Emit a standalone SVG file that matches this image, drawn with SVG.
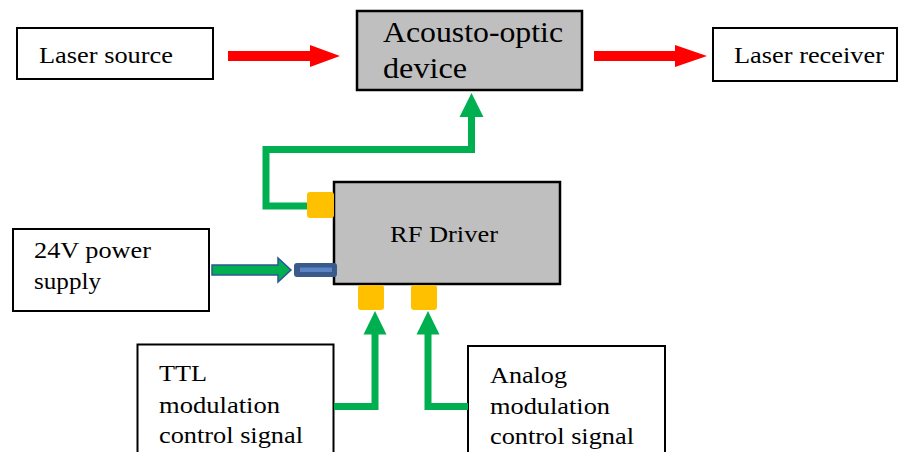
<svg xmlns="http://www.w3.org/2000/svg" width="899" height="452" viewBox="0 0 899 452" font-family="Liberation Serif, Times New Roman, serif">
<style>
.box{fill:#ffffff;stroke:#000;stroke-width:2}
.gbox{fill:#bfbfbf;stroke:#000;stroke-width:2.5}
text{font-family:"Liberation Serif",serif}
.t{font-size:23px;fill:#000}
.tb{font-size:29px;fill:#000}
.port{fill:#ffc000}
.red{fill:#ff0000}
.gl{fill:none;stroke:#00b050;stroke-width:7}
.gh{fill:#00b050}
</style>
<g id="laser-source">
<rect class="box" x="17" y="28" width="196" height="51"/>
<text class="t" x="39" y="62.5" textLength="134" lengthAdjust="spacingAndGlyphs">Laser source</text>
</g>
<g id="acousto-optic">
<rect class="gbox" x="357" y="11" width="225" height="79"/>
<text class="tb" x="383" y="41.5" textLength="180" lengthAdjust="spacingAndGlyphs">Acousto-optic</text>
<text class="tb" x="383" y="78" textLength="84" lengthAdjust="spacingAndGlyphs">device</text>
</g>
<g id="laser-receiver">
<rect class="box" x="713" y="28" width="184" height="53"/>
<text class="t" x="734" y="63" textLength="150" lengthAdjust="spacingAndGlyphs">Laser receiver</text>
</g>
<g id="rf-driver">
<rect class="gbox" x="334" y="182" width="226" height="102"/>
<text class="t" x="390" y="241.5" textLength="108" lengthAdjust="spacingAndGlyphs">RF Driver</text>
<rect class="port" x="307" y="192" width="27" height="26" rx="3"/>
<rect class="port" x="358" y="285" width="26" height="25" rx="3"/>
<rect class="port" x="411" y="285" width="26" height="25" rx="3"/>
<rect x="294" y="263" width="43" height="14" rx="3" fill="#3b5a8c"/>
<rect x="300" y="267.5" width="32" height="4.5" fill="#5b84c4"/>
</g>
<g id="power-supply">
<rect class="box" x="13" y="229" width="196" height="82"/>
<text class="t" x="34" y="258" textLength="117" lengthAdjust="spacingAndGlyphs">24V power</text>
<text class="t" x="34" y="289" textLength="67" lengthAdjust="spacingAndGlyphs">supply</text>
</g>
<g id="ttl-signal">
<rect class="box" x="137.5" y="344.5" width="196" height="130"/>
<text class="t" x="159" y="381" textLength="48" lengthAdjust="spacingAndGlyphs">TTL</text>
<text class="t" x="159" y="413" textLength="121" lengthAdjust="spacingAndGlyphs">modulation</text>
<text class="t" x="159" y="442.5" textLength="144" lengthAdjust="spacingAndGlyphs">control signal</text>
</g>
<g id="analog-signal">
<rect class="box" x="468" y="346" width="197" height="130"/>
<text class="t" x="490" y="383" textLength="77" lengthAdjust="spacingAndGlyphs">Analog</text>
<text class="t" x="490" y="413.5" textLength="120" lengthAdjust="spacingAndGlyphs">modulation</text>
<text class="t" x="490" y="443.5" textLength="144" lengthAdjust="spacingAndGlyphs">control signal</text>
</g>
<g id="connectors">
<polygon class="red" points="228,51 310,51 310,45 340,56 310,67 310,61 228,61"/>
<polygon class="red" points="594,51 675,51 675,45 707,56 675,67 675,61 594,61"/>
<polyline class="gl" points="307,206 266,206 266,149.5 471.5,149.5 471.5,115"/>
<polygon class="gh" points="459.5,117 483.5,117 471.5,93"/>
<polyline class="gl" points="334,406.5 375,406.5 375,332"/>
<polygon class="gh" points="363.5,334.5 386.5,334.5 375,311"/>
<polyline class="gl" points="468,406.5 428,406.5 428,332"/>
<polygon class="gh" points="416.5,334.5 439.5,334.5 428,311"/>
<polygon points="212,265 278,265 278,258 291,270 278,282 278,275 212,275" fill="#00b050" stroke="#2f5597" stroke-width="1.5"/>
</g>
</svg>
